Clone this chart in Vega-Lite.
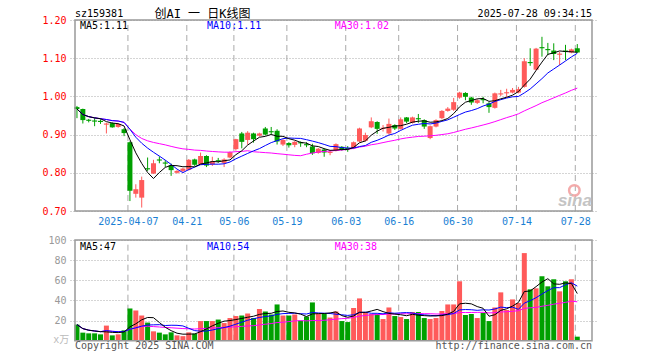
{
"$schema":"https://vega.github.io/schema/vega-lite/v6.json",
"width":527,"height":321,
"autosize":{"type":"none"},
"padding":{"left":70,"top":20,"right":63,"bottom":19},
"background":"white",
"config":{"view":{"stroke":null},"font":"DejaVu Sans Mono","text":{"font":"DejaVu Sans Mono","fontSize":10}},
"datasets":{
"ticks":[{"i":9},{"i":19},{"i":27},{"i":36},{"i":46},{"i":55},{"i":65},{"i":75},{"i":85}]
},
"data":{"values":[
{"i":0,"o":0.972,"h":0.975,"l":0.943,"c":0.967,"v":16,"m5":0.967,"m10":0.967,"m30":0.967,"vm5":16,"vm10":16,"vm30":16},
{"i":1,"o":0.967,"h":0.968,"l":0.929,"c":0.938,"v":8,"m5":0.9525,"m10":0.9525,"m30":0.9525,"vm5":12,"vm10":12,"vm30":12},
{"i":2,"o":0.939,"h":0.941,"l":0.932,"c":0.936,"v":7.3,"m5":0.947,"m10":0.947,"m30":0.947,"vm5":10.43,"vm10":10.43,"vm30":10.43},
{"i":3,"o":0.937,"h":0.944,"l":0.922,"c":0.934,"v":7.3,"m5":0.9438,"m10":0.9438,"m30":0.9438,"vm5":9.65,"vm10":9.65,"vm30":9.65},
{"i":4,"o":0.936,"h":0.94,"l":0.928,"c":0.933,"v":6.3,"m5":0.9416,"m10":0.9416,"m30":0.9416,"vm5":8.98,"vm10":8.98,"vm30":8.98},
{"i":5,"o":0.926,"h":0.931,"l":0.903,"c":0.929,"v":15,"m5":0.934,"m10":0.9395,"m30":0.9395,"vm5":8.78,"vm10":9.98,"vm30":9.98},
{"i":6,"o":0.93,"h":0.932,"l":0.918,"c":0.919,"v":5.3,"m5":0.9302,"m10":0.9366,"m30":0.9366,"vm5":8.24,"vm10":9.31,"vm30":9.31},
{"i":7,"o":0.92,"h":0.93,"l":0.918,"c":0.928,"v":6.3,"m5":0.9286,"m10":0.9355,"m30":0.9355,"vm5":8.04,"vm10":8.94,"vm30":8.94},
{"i":8,"o":0.914,"h":0.917,"l":0.896,"c":0.904,"v":10.3,"m5":0.9226,"m10":0.932,"m30":0.932,"vm5":8.64,"vm10":9.09,"vm30":9.09},
{"i":9,"o":0.88,"h":0.882,"l":0.726,"c":0.753,"v":32,"m5":0.8866,"m10":0.9141,"m30":0.9141,"vm5":13.78,"vm10":11.38,"vm30":11.38},
{"i":10,"o":0.745,"h":0.77,"l":0.735,"c":0.757,"v":30,"m5":0.8522,"m10":0.8931,"m30":0.8998,"vm5":16.78,"vm10":12.78,"vm30":13.07},
{"i":11,"o":0.735,"h":0.79,"l":0.709,"c":0.781,"v":25,"m5":0.8246,"m10":0.8774,"m30":0.8899,"vm5":20.72,"vm10":14.48,"vm30":14.07},
{"i":12,"o":0.812,"h":0.84,"l":0.805,"c":0.809,"v":18,"m5":0.8008,"m10":0.8647,"m30":0.8837,"vm5":23.06,"vm10":15.55,"vm30":14.37},
{"i":13,"o":0.798,"h":0.834,"l":0.797,"c":0.825,"v":9.3,"m5":0.785,"m10":0.8538,"m30":0.8795,"vm5":22.86,"vm10":15.75,"vm30":14.01},
{"i":14,"o":0.835,"h":0.843,"l":0.825,"c":0.832,"v":8,"m5":0.8008,"m10":0.8437,"m30":0.8763,"vm5":18.06,"vm10":15.92,"vm30":13.61},
{"i":15,"o":0.827,"h":0.833,"l":0.815,"c":0.824,"v":6.3,"m5":0.8142,"m10":0.8332,"m30":0.8731,"vm5":13.32,"vm10":15.05,"vm30":13.15},
{"i":16,"o":0.82,"h":0.824,"l":0.792,"c":0.807,"v":8.3,"m5":0.8194,"m10":0.822,"m30":0.8692,"vm5":9.98,"vm10":15.35,"vm30":12.86},
{"i":17,"o":0.8,"h":0.807,"l":0.798,"c":0.805,"v":5.3,"m5":0.8186,"m10":0.8097,"m30":0.8656,"vm5":7.44,"vm10":15.25,"vm30":12.44},
{"i":18,"o":0.805,"h":0.813,"l":0.802,"c":0.811,"v":4.5,"m5":0.8158,"m10":0.8004,"m30":0.8627,"vm5":6.48,"vm10":14.67,"vm30":12.03},
{"i":19,"o":0.808,"h":0.836,"l":0.806,"c":0.834,"v":8.3,"m5":0.8162,"m10":0.8085,"m30":0.8613,"vm5":6.54,"vm10":12.3,"vm30":11.84},
{"i":20,"o":0.835,"h":0.837,"l":0.818,"c":0.821,"v":7,"m5":0.8156,"m10":0.8149,"m30":0.8594,"vm5":6.68,"vm10":10,"vm30":11.61},
{"i":21,"o":0.823,"h":0.853,"l":0.821,"c":0.844,"v":19.5,"m5":0.823,"m10":0.8212,"m30":0.8587,"vm5":8.92,"vm10":9.45,"vm30":11.97},
{"i":22,"o":0.844,"h":0.846,"l":0.815,"c":0.819,"v":19.5,"m5":0.8258,"m10":0.8222,"m30":0.857,"vm5":11.76,"vm10":9.6,"vm30":12.3},
{"i":23,"o":0.822,"h":0.842,"l":0.818,"c":0.83,"v":19.5,"m5":0.8296,"m10":0.8227,"m30":0.8558,"vm5":14.76,"vm10":10.62,"vm30":12.6},
{"i":24,"o":0.833,"h":0.839,"l":0.826,"c":0.83,"v":21,"m5":0.8288,"m10":0.8225,"m30":0.8548,"vm5":17.3,"vm10":11.92,"vm30":12.93},
{"i":25,"o":0.826,"h":0.838,"l":0.815,"c":0.835,"v":17.5,"m5":0.8316,"m10":0.8236,"m30":0.854,"vm5":19.4,"vm10":13.04,"vm30":13.11},
{"i":26,"o":0.84,"h":0.856,"l":0.838,"c":0.854,"v":22.5,"m5":0.8336,"m10":0.8283,"m30":0.854,"vm5":20,"vm10":14.46,"vm30":13.46},
{"i":27,"o":0.862,"h":0.889,"l":0.858,"c":0.888,"v":24.5,"m5":0.8474,"m10":0.8366,"m30":0.8553,"vm5":21,"vm10":16.38,"vm30":13.85},
{"i":28,"o":0.903,"h":0.907,"l":0.864,"c":0.881,"v":25,"m5":0.8576,"m10":0.8436,"m30":0.8561,"vm5":22.1,"vm10":18.43,"vm30":14.23},
{"i":29,"o":0.886,"h":0.909,"l":0.874,"c":0.905,"v":27,"m5":0.8726,"m10":0.8507,"m30":0.8578,"vm5":23.3,"vm10":20.3,"vm30":14.66},
{"i":30,"o":0.903,"h":0.905,"l":0.879,"c":0.888,"v":22.5,"m5":0.8832,"m10":0.8574,"m30":0.8551,"vm5":24.3,"vm10":21.85,"vm30":14.88},
{"i":31,"o":0.897,"h":0.905,"l":0.895,"c":0.903,"v":31.5,"m5":0.893,"m10":0.8633,"m30":0.854,"vm5":26.1,"vm10":23.05,"vm30":15.66},
{"i":32,"o":0.916,"h":0.92,"l":0.898,"c":0.9,"v":29,"m5":0.8954,"m10":0.8714,"m30":0.8528,"vm5":27,"vm10":24,"vm30":16.38},
{"i":33,"o":0.909,"h":0.92,"l":0.9,"c":0.906,"v":26,"m5":0.9004,"m10":0.879,"m30":0.8518,"vm5":27.2,"vm10":24.65,"vm30":17.01},
{"i":34,"o":0.91,"h":0.914,"l":0.874,"c":0.882,"v":36,"m5":0.8958,"m10":0.8842,"m30":0.8501,"vm5":29,"vm10":26.15,"vm30":18},
{"i":35,"o":0.874,"h":0.888,"l":0.87,"c":0.886,"v":25,"m5":0.8954,"m10":0.8893,"m30":0.8487,"vm5":29.5,"vm10":26.9,"vm30":18.33},
{"i":36,"o":0.878,"h":0.88,"l":0.866,"c":0.872,"v":25,"m5":0.8892,"m10":0.8911,"m30":0.8471,"vm5":28.2,"vm10":27.15,"vm30":18.99},
{"i":37,"o":0.873,"h":0.883,"l":0.867,"c":0.881,"v":26,"m5":0.8854,"m10":0.8904,"m30":0.8456,"vm5":27.6,"vm10":27.3,"vm30":19.64},
{"i":38,"o":0.88,"h":0.882,"l":0.868,"c":0.877,"v":20,"m5":0.8796,"m10":0.89,"m30":0.8447,"vm5":26.4,"vm10":26.8,"vm30":19.97},
{"i":39,"o":0.875,"h":0.88,"l":0.867,"c":0.872,"v":24,"m5":0.8776,"m10":0.8867,"m30":0.8486,"vm5":24,"vm10":26.5,"vm30":19.7},
{"i":40,"o":0.869,"h":0.876,"l":0.847,"c":0.851,"v":38,"m5":0.8706,"m10":0.883,"m30":0.8518,"vm5":26.6,"vm10":28.05,"vm30":19.97},
{"i":41,"o":0.852,"h":0.865,"l":0.85,"c":0.863,"v":26.5,"m5":0.8688,"m10":0.879,"m30":0.8545,"vm5":26.9,"vm10":27.55,"vm30":20.02},
{"i":42,"o":0.861,"h":0.864,"l":0.842,"c":0.853,"v":26.5,"m5":0.8632,"m10":0.8743,"m30":0.856,"vm5":27,"vm10":27.3,"vm30":20.3},
{"i":43,"o":0.852,"h":0.859,"l":0.846,"c":0.855,"v":23,"m5":0.8588,"m10":0.8692,"m30":0.857,"vm5":27.6,"vm10":27,"vm30":20.76},
{"i":44,"o":0.858,"h":0.877,"l":0.856,"c":0.875,"v":29,"m5":0.8594,"m10":0.8685,"m30":0.8584,"vm5":28.6,"vm10":26.3,"vm30":21.46},
{"i":45,"o":0.868,"h":0.87,"l":0.857,"c":0.86,"v":19.5,"m5":0.8612,"m10":0.8659,"m30":0.8596,"vm5":24.9,"vm10":25.75,"vm30":21.9},
{"i":46,"o":0.865,"h":0.87,"l":0.855,"c":0.862,"v":18.5,"m5":0.861,"m10":0.8649,"m30":0.8614,"vm5":23.3,"vm10":25.1,"vm30":22.24},
{"i":47,"o":0.864,"h":0.882,"l":0.862,"c":0.88,"v":32.5,"m5":0.8664,"m10":0.8648,"m30":0.8639,"vm5":24.5,"vm10":25.75,"vm30":23.14},
{"i":48,"o":0.882,"h":0.918,"l":0.88,"c":0.916,"v":42,"m5":0.8786,"m10":0.8687,"m30":0.8674,"vm5":28.3,"vm10":27.95,"vm30":24.39},
{"i":49,"o":0.884,"h":0.905,"l":0.882,"c":0.899,"v":28,"m5":0.8834,"m10":0.8714,"m30":0.8696,"vm5":28.1,"vm10":28.35,"vm30":25.05},
{"i":50,"o":0.919,"h":0.945,"l":0.917,"c":0.935,"v":26.5,"m5":0.8984,"m10":0.8798,"m30":0.8734,"vm5":29.5,"vm10":27.2,"vm30":25.7},
{"i":51,"o":0.933,"h":0.935,"l":0.902,"c":0.915,"v":26.5,"m5":0.909,"m10":0.885,"m30":0.8758,"vm5":31.1,"vm10":27.2,"vm30":25.93},
{"i":52,"o":0.915,"h":0.925,"l":0.908,"c":0.918,"v":21.5,"m5":0.9166,"m10":0.8915,"m30":0.8791,"vm5":28.9,"vm10":26.7,"vm30":26},
{"i":53,"o":0.903,"h":0.942,"l":0.9,"c":0.928,"v":33,"m5":0.919,"m10":0.8988,"m30":0.8823,"vm5":27.1,"vm10":27.7,"vm30":26.45},
{"i":54,"o":0.925,"h":0.927,"l":0.912,"c":0.916,"v":24.5,"m5":0.9224,"m10":0.9029,"m30":0.8852,"vm5":26.4,"vm10":27.25,"vm30":26.57},
{"i":55,"o":0.915,"h":0.945,"l":0.913,"c":0.94,"v":23.5,"m5":0.9234,"m10":0.9109,"m30":0.8887,"vm5":25.8,"vm10":27.65,"vm30":26.77},
{"i":56,"o":0.945,"h":0.946,"l":0.93,"c":0.934,"v":21.5,"m5":0.9272,"m10":0.9181,"m30":0.8914,"vm5":24.8,"vm10":27.95,"vm30":26.73},
{"i":57,"o":0.931,"h":0.947,"l":0.929,"c":0.945,"v":28.5,"m5":0.9326,"m10":0.9246,"m30":0.8933,"vm5":26.2,"vm10":27.55,"vm30":26.87},
{"i":58,"o":0.943,"h":0.954,"l":0.931,"c":0.94,"v":28.5,"m5":0.935,"m10":0.927,"m30":0.8952,"vm5":25.3,"vm10":26.2,"vm30":26.98},
{"i":59,"o":0.938,"h":0.94,"l":0.915,"c":0.921,"v":22.5,"m5":0.936,"m10":0.9292,"m30":0.8958,"vm5":24.9,"vm10":25.65,"vm30":26.83},
{"i":60,"o":0.891,"h":0.924,"l":0.888,"c":0.922,"v":21.5,"m5":0.9324,"m10":0.9279,"m30":0.8969,"vm5":24.5,"vm10":25.15,"vm30":26.8},
{"i":61,"o":0.921,"h":0.94,"l":0.919,"c":0.938,"v":22.5,"m5":0.9332,"m10":0.9302,"m30":0.8981,"vm5":24.7,"vm10":24.75,"vm30":26.5},
{"i":62,"o":0.943,"h":0.964,"l":0.94,"c":0.962,"v":29.5,"m5":0.9366,"m10":0.9346,"m30":0.9001,"vm5":24.9,"vm10":25.55,"vm30":26.52},
{"i":63,"o":0.962,"h":0.972,"l":0.96,"c":0.968,"v":36,"m5":0.9422,"m10":0.9386,"m30":0.9022,"vm5":26.4,"vm10":25.85,"vm30":26.85},
{"i":64,"o":0.965,"h":0.996,"l":0.962,"c":0.985,"v":36,"m5":0.955,"m10":0.9455,"m30":0.9056,"vm5":29.1,"vm10":27,"vm30":26.85},
{"i":65,"o":0.997,"h":1.012,"l":0.994,"c":1.01,"v":59,"m5":0.9726,"m10":0.9525,"m30":0.9098,"vm5":36.6,"vm10":30.55,"vm30":27.98},
{"i":66,"o":1.009,"h":1.011,"l":0.99,"c":0.999,"v":25.5,"m5":0.9848,"m10":0.959,"m30":0.914,"vm5":37.2,"vm10":30.95,"vm30":28},
{"i":67,"o":0.997,"h":0.999,"l":0.978,"c":0.984,"v":26.5,"m5":0.9892,"m10":0.9629,"m30":0.9174,"vm5":36.6,"vm10":30.75,"vm30":28.02},
{"i":68,"o":0.983,"h":0.993,"l":0.98,"c":0.99,"v":22.5,"m5":0.9936,"m10":0.9679,"m30":0.9212,"vm5":33.9,"vm10":30.15,"vm30":28.1},
{"i":69,"o":0.993,"h":0.999,"l":0.982,"c":0.99,"v":27.5,"m5":0.9946,"m10":0.9748,"m30":0.9251,"vm5":32.2,"vm10":30.65,"vm30":28.22},
{"i":70,"o":0.982,"h":0.985,"l":0.957,"c":0.972,"v":19.5,"m5":0.987,"m10":0.9798,"m30":0.9292,"vm5":24.3,"vm10":30.45,"vm30":27.6},
{"i":71,"o":0.97,"h":1.01,"l":0.968,"c":1.008,"v":33,"m5":0.9888,"m10":0.9868,"m30":0.934,"vm5":25.8,"vm10":31.5,"vm30":27.82},
{"i":72,"o":1.005,"h":1.017,"l":1.001,"c":1.008,"v":48,"m5":0.9936,"m10":0.9914,"m30":0.9392,"vm5":30.1,"vm10":33.35,"vm30":28.53},
{"i":73,"o":1.008,"h":1.02,"l":0.999,"c":1.011,"v":30.5,"m5":0.9978,"m10":0.9957,"m30":0.9444,"vm5":31.7,"vm10":32.8,"vm30":28.78},
{"i":74,"o":1.01,"h":1.022,"l":1.008,"c":1.017,"v":41,"m5":1.0032,"m10":0.9989,"m30":0.9491,"vm5":34.4,"vm10":33.3,"vm30":29.18},
{"i":75,"o":1.01,"h":1.025,"l":1.008,"c":1.019,"v":37.5,"m5":1.0126,"m10":0.9998,"m30":0.9544,"vm5":38,"vm10":31.15,"vm30":29.78},
{"i":76,"o":1.025,"h":1.1,"l":1.023,"c":1.092,"v":87,"m5":1.0294,"m10":1.0091,"m30":0.9621,"vm5":48.8,"vm10":37.3,"vm30":32.07},
{"i":77,"o":1.09,"h":1.126,"l":1.08,"c":1.087,"v":51,"m5":1.0452,"m10":1.0194,"m30":0.969,"vm5":49.4,"vm10":39.75,"vm30":32.68},
{"i":78,"o":1.07,"h":1.127,"l":1.068,"c":1.125,"v":52,"m5":1.068,"m10":1.0329,"m30":0.9759,"vm5":53.7,"vm10":42.7,"vm30":33.02},
{"i":79,"o":1.129,"h":1.156,"l":1.104,"c":1.126,"v":64,"m5":1.0898,"m10":1.0465,"m30":0.9835,"vm5":58.3,"vm10":46.35,"vm30":34.22},
{"i":80,"o":1.124,"h":1.14,"l":1.108,"c":1.121,"v":54,"m5":1.1102,"m10":1.0614,"m30":0.9897,"vm5":61.6,"vm10":49.8,"vm30":35.13},
{"i":81,"o":1.12,"h":1.139,"l":1.095,"c":1.111,"v":61,"m5":1.114,"m10":1.0717,"m30":0.9962,"vm5":56.4,"vm10":52.6,"vm30":36.28},
{"i":82,"o":1.109,"h":1.117,"l":1.082,"c":1.112,"v":49,"m5":1.119,"m10":1.0821,"m30":1.0027,"vm5":56,"vm10":52.7,"vm30":37.2},
{"i":83,"o":1.12,"h":1.135,"l":1.095,"c":1.117,"v":59,"m5":1.1174,"m10":1.0927,"m30":1.009,"vm5":57.4,"vm10":55.55,"vm30":38.07},
{"i":84,"o":1.115,"h":1.125,"l":1.113,"c":1.123,"v":61,"m5":1.1168,"m10":1.1033,"m30":1.0159,"vm5":56.8,"vm10":57.55,"vm30":39.28},
{"i":85,"o":1.126,"h":1.137,"l":1.114,"c":1.115,"v":4,"m5":1.1156,"m10":1.1129,"m30":1.0217,"vm5":46.8,"vm10":54.2,"vm30":38.63}
]},
"layer":[
{"layer":[
 {"data":{"name":"ticks"},"mark":{"type":"rule","color":"#aaaaaa","strokeDash":[6,4],"strokeWidth":1,"xOffset":-2},
  "encoding":{"x":{"field":"i","type":"quantitative","title":null,"scale":{"domain":[-0.333,87.5],"nice":false,"zero":false}},"y":{"datum":0.7,"type":"quantitative","title":null,"scale":{"domain":[0.7,1.2],"range":[191,0],"nice":false,"zero":false}},"y2":{"datum":1.2}}},
 {"mark":{"type":"rule","strokeWidth":1},
  "encoding":{"x":{"field":"i","type":"quantitative","title":null,"scale":{"domain":[-0.333,87.5],"nice":false,"zero":false},
   "axis":{"values":[9,19,27,36,46,55,65,75,85],"labelExpr":"['2025-04-07','04-21','05-06','05-19','06-03','06-16','06-30','07-14','07-28'][indexof([9,19,27,36,46,55,65,75,85], datum.value)]","labelOffset":-2,"offset":-130,"grid":false,"domain":false,"ticks":false,"labelPadding":5,"labelColor":"#1a7fd4","labelFont":"DejaVu Sans Mono","labelFontSize":10,"labelFlush":false,"labelOverlap":false,"title":null}},
   "y":{"field":"l","type":"quantitative","title":null,"scale":{"domain":[0.7,1.2],"range":[191,0],"nice":false,"zero":false},
   "axis":{"orient":"left","values":[0.7,0.8,0.9,1.0,1.1,1.2],"format":".2f","labelColor":"#ff0000","labelFont":"DejaVu Sans Mono","labelFontSize":10,"domain":false,"ticks":false,"labelPadding":4,"grid":true,"gridColor":"#aaaaaa","gridDash":[1,2],"title":null}},
   "y2":{"field":"h"},
   "color":{"condition":{"test":"datum.c >= datum.o","value":"#ff5a5a"},"value":"#00a000"}}},
 {"mark":{"type":"bar","size":5},
  "encoding":{"x":{"field":"i","type":"quantitative","title":null},"y":{"field":"o","type":"quantitative","title":null},"y2":{"field":"c"},
   "color":{"condition":{"test":"datum.c >= datum.o","value":"#ff5a5a"},"value":"#00a000"}}},
 {"mark":{"type":"line","color":"#ff00ff","strokeWidth":1},"encoding":{"x":{"field":"i","type":"quantitative","title":null},"y":{"field":"m30","type":"quantitative","title":null}}},
 {"mark":{"type":"line","color":"#0000ff","strokeWidth":1},"encoding":{"x":{"field":"i","type":"quantitative","title":null},"y":{"field":"m10","type":"quantitative","title":null}}},
 {"mark":{"type":"line","color":"#000000","strokeWidth":1},"encoding":{"x":{"field":"i","type":"quantitative","title":null},"y":{"field":"m5","type":"quantitative","title":null}}},
 {"data":{"values":[{"k":1}]},"mark":{"type":"rect","fill":"transparent","stroke":"#999999","strokeWidth":1.5},
  "encoding":{"x":{"datum":-0.333,"type":"quantitative"},"x2":{"datum":87.5},"y":{"datum":0.7,"type":"quantitative","title":null},"y2":{"datum":1.2}}},
 {"data":{"values":[{"k":1}]},"mark":{"type":"text","text":"sz159381","align":"left","baseline":"middle","color":"#000"},
  "encoding":{"x":{"datum":-0.333,"type":"quantitative"},"y":{"datum":1.217,"type":"quantitative","title":null}}},
 {"data":{"values":[{"k":1}]},"mark":{"type":"text","text":"创AI 一 日K线图","align":"center","baseline":"middle","color":"#000","fontSize":12,"font":"DejaVu Sans Mono, Noto Sans CJK SC"},
  "encoding":{"x":{"datum":21.33,"type":"quantitative"},"y":{"datum":1.217,"type":"quantitative","title":null}}},
 {"data":{"values":[{"k":1}]},"mark":{"type":"text","text":"2025-07-28 09:34:15","align":"right","baseline":"middle","color":"#000"},
  "encoding":{"x":{"datum":87.5,"type":"quantitative"},"y":{"datum":1.217,"type":"quantitative","title":null}}},
 {"data":{"values":[{"k":1}]},"mark":{"type":"text","text":"MA5:1.11","align":"left","baseline":"middle","color":"#000"},
  "encoding":{"x":{"datum":0.5,"type":"quantitative"},"y":{"datum":1.183,"type":"quantitative","title":null}}},
 {"data":{"values":[{"k":1}]},"mark":{"type":"text","text":"MA10:1.11","align":"left","baseline":"middle","color":"#0000ff"},
  "encoding":{"x":{"datum":22.1,"type":"quantitative"},"y":{"datum":1.183,"type":"quantitative","title":null}}},
 {"data":{"values":[{"k":1}]},"mark":{"type":"text","text":"MA30:1.02","align":"left","baseline":"middle","color":"#ff00ff"},
  "encoding":{"x":{"datum":43.8,"type":"quantitative"},"y":{"datum":1.183,"type":"quantitative","title":null}}},
 {"data":{"values":[{"k":1}]},"mark":{"type":"point","shape":"circle","size":110,"filled":false,"stroke":"#f3a3a3","strokeWidth":2.5,"opacity":0.9},
  "encoding":{"x":{"datum":84.5,"type":"quantitative"},"y":{"datum":0.754,"type":"quantitative","title":null}}},
 {"data":{"values":[{"k":1}]},"mark":{"type":"text","text":"sina","align":"center","baseline":"middle","color":"#c4c4c4","fontSize":17,"fontWeight":"bold","fontStyle":"italic","font":"Liberation Sans"},
  "encoding":{"x":{"datum":84.6,"type":"quantitative"},"y":{"datum":0.725,"type":"quantitative","title":null}}}
]},
{"layer":[
 {"data":{"name":"ticks"},"mark":{"type":"rule","color":"#aaaaaa","strokeDash":[6,4],"strokeWidth":1,"xOffset":-2},
  "encoding":{"x":{"field":"i","type":"quantitative","title":null},"y":{"datum":0,"type":"quantitative","title":null,"scale":{"domain":[0,100],"range":[320.7,220],"nice":false}},"y2":{"datum":100}}},
 {"mark":{"type":"bar","size":5},
  "encoding":{"x":{"field":"i","type":"quantitative","title":null},"y":{"field":"v","type":"quantitative","title":null,"scale":{"domain":[0,100],"range":[320.7,220],"nice":false},
   "axis":{"orient":"left","values":[20,40,60,80,100],"labelColor":"#999999","labelFont":"DejaVu Sans Mono","labelFontSize":10,"domain":false,"ticks":false,"labelPadding":4,"grid":true,"gridColor":"#aaaaaa","gridDash":[1,2],"title":null}},
   "color":{"condition":{"test":"datum.c >= datum.o","value":"#ff5a5a"},"value":"#00a000"}}},
 {"mark":{"type":"line","color":"#ff00ff","strokeWidth":1},"encoding":{"x":{"field":"i","type":"quantitative","title":null},"y":{"field":"vm30","type":"quantitative","title":null}}},
 {"mark":{"type":"line","color":"#0000ff","strokeWidth":1},"encoding":{"x":{"field":"i","type":"quantitative","title":null},"y":{"field":"vm10","type":"quantitative","title":null}}},
 {"mark":{"type":"line","color":"#000000","strokeWidth":1},"encoding":{"x":{"field":"i","type":"quantitative","title":null},"y":{"field":"vm5","type":"quantitative","title":null}}},
 {"data":{"values":[{"k":1}]},"mark":{"type":"rect","fill":"transparent","stroke":"#999999","strokeWidth":1.5},
  "encoding":{"x":{"datum":-0.333,"type":"quantitative"},"x2":{"datum":87.5},"y":{"datum":0,"type":"quantitative","title":null},"y2":{"datum":100}}},
 {"data":{"values":[{"k":1}]},"mark":{"type":"text","text":"MA5:47","align":"left","baseline":"middle","color":"#000"},
  "encoding":{"x":{"datum":0.5,"type":"quantitative"},"y":{"datum":93,"type":"quantitative","title":null}}},
 {"data":{"values":[{"k":1}]},"mark":{"type":"text","text":"MA10:54","align":"left","baseline":"middle","color":"#0000ff"},
  "encoding":{"x":{"datum":22.1,"type":"quantitative"},"y":{"datum":93,"type":"quantitative","title":null}}},
 {"data":{"values":[{"k":1}]},"mark":{"type":"text","text":"MA30:38","align":"left","baseline":"middle","color":"#ff00ff"},
  "encoding":{"x":{"datum":43.8,"type":"quantitative"},"y":{"datum":93,"type":"quantitative","title":null}}},
 {"data":{"values":[{"k":1}]},"mark":{"type":"text","text":"Copyright 2025 SINA.COM","align":"left","baseline":"middle","color":"#555555"},
  "encoding":{"x":{"datum":-0.333,"type":"quantitative"},"y":{"datum":-5.3,"type":"quantitative","title":null}}},
 {"data":{"values":[{"k":1}]},"mark":{"type":"text","text":"http://finance.sina.com.cn","align":"right","baseline":"middle","color":"#555555"},
  "encoding":{"x":{"datum":87.5,"type":"quantitative"},"y":{"datum":-5.3,"type":"quantitative","title":null}}},
 {"data":{"values":[{"k":1}]},"mark":{"type":"text","text":"x万","align":"center","baseline":"middle","color":"#bbbbbb","font":"DejaVu Sans Mono, Noto Sans CJK SC"},
  "encoding":{"x":{"datum":-2.67,"type":"quantitative"},"y":{"datum":0.7,"type":"quantitative","title":null}}}
]}
],
"resolve":{"scale":{"y":"independent"},"axis":{"y":"independent"}}
}
